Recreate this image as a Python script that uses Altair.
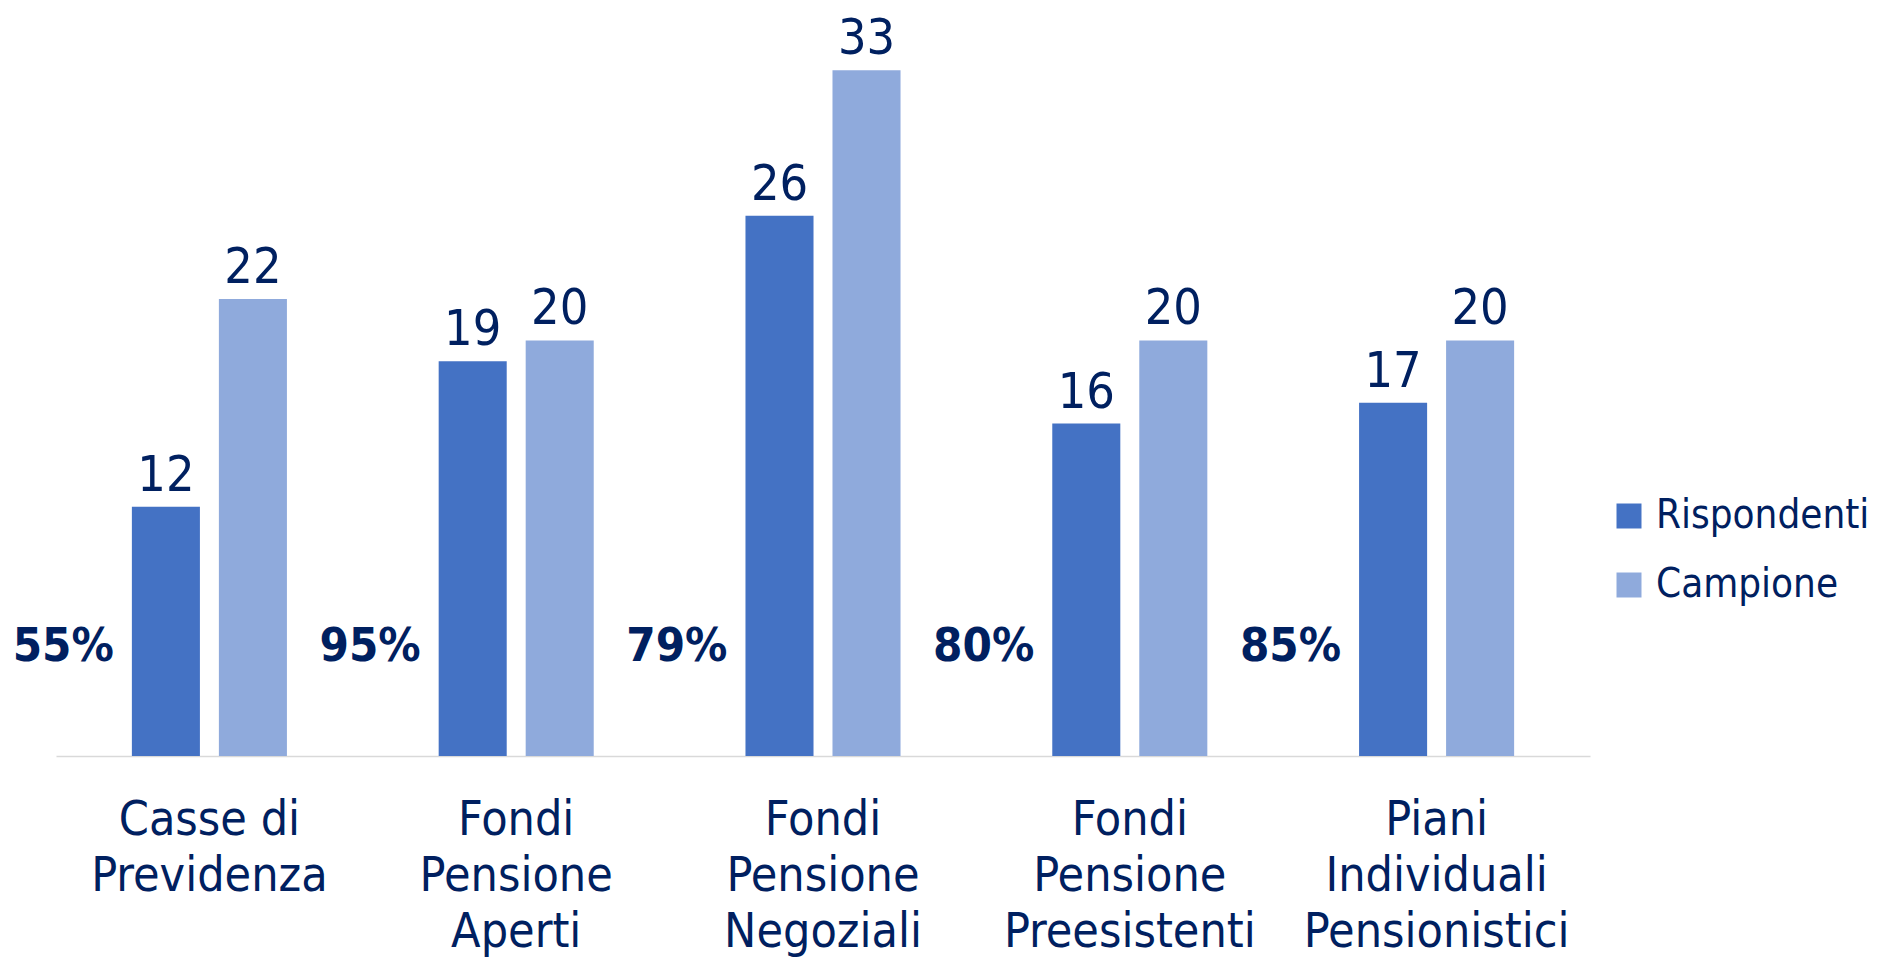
import altair as alt
import pandas as pd

categories = ["Casse di\nPrevidenza", "Fondi\nPensione\nAperti", "Fondi\nPensione\nNegoziali",
              "Fondi\nPensione\nPreesistenti", "Piani\nIndividuali\nPensionistici"]
series = ["Rispondenti", "Campione"]
rispondenti = [12, 19, 26, 16, 17]
campione = [22, 20, 33, 20, 20]
percent_labels = ["55%", "95%", "79%", "80%", "85%"]

FONT = "Liberation Sans Narrow, DejaVu Sans Condensed, Roboto"
NAVY = "#002060"
COLORS = ["#4472C4", "#8FAADC"]

rows = []
for i, c in enumerate(categories):
    rows.append({"cat": c, "serie": series[0], "val": rispondenti[i], "pct": percent_labels[i]})
    rows.append({"cat": c, "serie": series[1], "val": campione[i], "pct": percent_labels[i]})
df = pd.DataFrame(rows)

x = alt.X("cat:N", sort=categories, title=None,
          scale=alt.Scale(paddingInner=0, paddingOuter=0),
          axis=alt.Axis(labelExpr="split(datum.label, '\\n')", labelAngle=0,
                        labelFont=FONT, labelFontSize=48, labelColor=NAVY, labelLimit=0,
                        labelLineHeight=56, labelPadding=40, ticks=False,
                        domainColor="#D9D9D9", domainWidth=1.5, labelBaseline="top"))
xoff = alt.XOffset("serie:N", sort=series,
                   scale=alt.Scale(paddingInner=0.218, paddingOuter=0.872))
y = alt.Y("val:Q", scale=alt.Scale(domain=[0, 36], nice=False), axis=None)

base = alt.Chart(df)

bars = base.mark_bar().encode(
    x=x, xOffset=xoff, y=y,
    color=alt.Color("serie:N", sort=series,
                    scale=alt.Scale(domain=series, range=COLORS),
                    legend=alt.Legend(title=None, orient="none", legendX=1553, legendY=488,
                                      symbolType="square", symbolSize=625, symbolStrokeWidth=0,
                                      labelFont=FONT, labelFontSize=40, labelColor=NAVY,
                                      labelLimit=0, labelOffset=7, rowPadding=29)),
)

values = base.mark_text(font=FONT, fontSize=50, color=NAVY, baseline="alphabetic", dy=-16).encode(
    x=x, xOffset=xoff, y=y, text="val:Q"
)

pct = base.transform_filter(alt.datum.serie == series[0]).mark_text(
    font=FONT, fontSize=47, fontWeight="bold", color=NAVY, align="right",
    baseline="middle", dx=-52
).encode(x=x, xOffset=xoff, y=alt.datum(5.24), text="pct:N")

chart = alt.layer(bars, values, pct).properties(
    width=1534, height=748,
    autosize=alt.AutoSizeParams(type="none"),
    padding={"left": 48, "top": 0, "right": 278, "bottom": 203},
).configure_view(stroke=None)

chart.save("out.html", embed_options={"renderer": "svg", "actions": False})
